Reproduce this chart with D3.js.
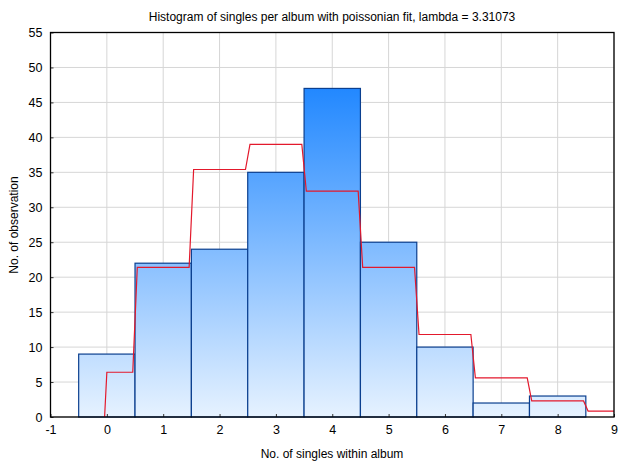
<!DOCTYPE html>
<html><head><meta charset="utf-8">
<script src="https://cdn.jsdelivr.net/npm/d3@7"></script>
<style>body{margin:0;background:#fff}svg{display:block}text{font-family:"Liberation Sans",Arial,sans-serif;fill:#000}</style>
</head><body>
<svg id="c" width="624" height="468"></svg>
<script>
const categories = [0,1,2,3,4,5,6,7,8];
const counts = [9,22,24,35,47,25,10,2,3];
const fitX = [0,1,2,3,4,5,6,7,8,9];
const fitValues = [6.4,21.4,35.4,39.0,32.3,21.4,11.8,5.6,2.3,0.85];
const xTicks = [-1,0,1,2,3,4,5,6,7,8,9];
const yTicks = [0,5,10,15,20,25,30,35,40,45,50,55];

const svg = d3.select("#c");
const m = {l:50.5, r:614, t:32.5, b:417};
const x = d3.scaleLinear().domain([-1,9]).range([m.l,m.r]);
const y = d3.scaleLinear().domain([0,55]).range([m.b,m.t]);

const defs = svg.append("defs");
const g = defs.append("linearGradient").attr("id","bg").attr("gradientUnits","userSpaceOnUse")
  .attr("x1",0).attr("x2",0).attr("y1",y(0)).attr("y2",y(47));
g.append("stop").attr("offset","0%").attr("stop-color","#e6f2ff");
g.append("stop").attr("offset","100%").attr("stop-color","#2288ff");

// grid
svg.append("g").selectAll("line.v").data(xTicks).join("line")
  .attr("x1",d=>x(d)).attr("x2",d=>x(d)).attr("y1",m.t).attr("y2",m.b)
  .attr("stroke","#d6d6d6").attr("stroke-width",1);
svg.append("g").selectAll("line.h").data(yTicks).join("line")
  .attr("x1",m.l).attr("x2",m.r).attr("y1",d=>y(d)).attr("y2",d=>y(d))
  .attr("stroke","#d6d6d6").attr("stroke-width",1);

// bars
svg.append("g").selectAll("rect").data(categories).join("rect")
  .attr("x",(d)=>x(d-0.5)).attr("width",(d)=>x(d+0.5)-x(d-0.5))
  .attr("y",(d,i)=>y(counts[i])).attr("height",(d,i)=>y(0)-y(counts[i]))
  .attr("fill","url(#bg)").attr("stroke","#0b3f8f").attr("stroke-width",1.2);

// fit step line
const pts = [];
const eps = 0.04;
fitX.forEach((k,i)=>{
  const x0 = i===0 ? k : k-0.5+eps;
  const x1 = k===9 ? 9 : k+0.5-eps;
  if(i===0) pts.push([k-eps,0]);
  pts.push([x0,fitValues[i]]);
  pts.push([x1,fitValues[i]]);
});
svg.append("path").datum(pts)
  .attr("d",d3.line().x(d=>x(d[0])).y(d=>y(d[1])))
  .attr("fill","none").attr("stroke","#e3192c").attr("stroke-width",1.2);

// axes
const xa = svg.append("g").attr("transform",`translate(0,${m.b})`)
  .call(d3.axisBottom(x).tickValues(xTicks).tickFormat(d=>String(d)).tickSizeInner(-3).tickSizeOuter(0).tickPadding(8));
const ya = svg.append("g").attr("transform",`translate(${m.l},0)`)
  .call(d3.axisLeft(y).tickValues(yTicks).tickFormat(d=>String(d)).tickSizeInner(-3).tickSizeOuter(0).tickPadding(8));
[xa,ya].forEach(a=>{a.select(".domain").remove();a.selectAll("line").attr("stroke","#333");
  a.selectAll("text").attr("font-size",12.5).attr("font-family","Liberation Sans, Arial, sans-serif").attr("fill","#000");});

// frame
svg.append("rect").attr("x",m.l).attr("y",m.t).attr("width",m.r-m.l).attr("height",m.b-m.t)
  .attr("fill","none").attr("stroke","#000").attr("stroke-width",1.3);

svg.append("text").attr("x",332).attr("y",21).attr("text-anchor","middle").attr("font-size",12)
  .text("Histogram of singles per album with poissonian fit, lambda = 3.31073");
svg.append("text").attr("x",332).attr("y",458).attr("text-anchor","middle").attr("font-size",12)
  .text("No. of singles within album");
svg.append("text").attr("transform","translate(18,225) rotate(-90)").attr("text-anchor","middle").attr("font-size",12)
  .text("No. of observation");
</script>
</body></html>
